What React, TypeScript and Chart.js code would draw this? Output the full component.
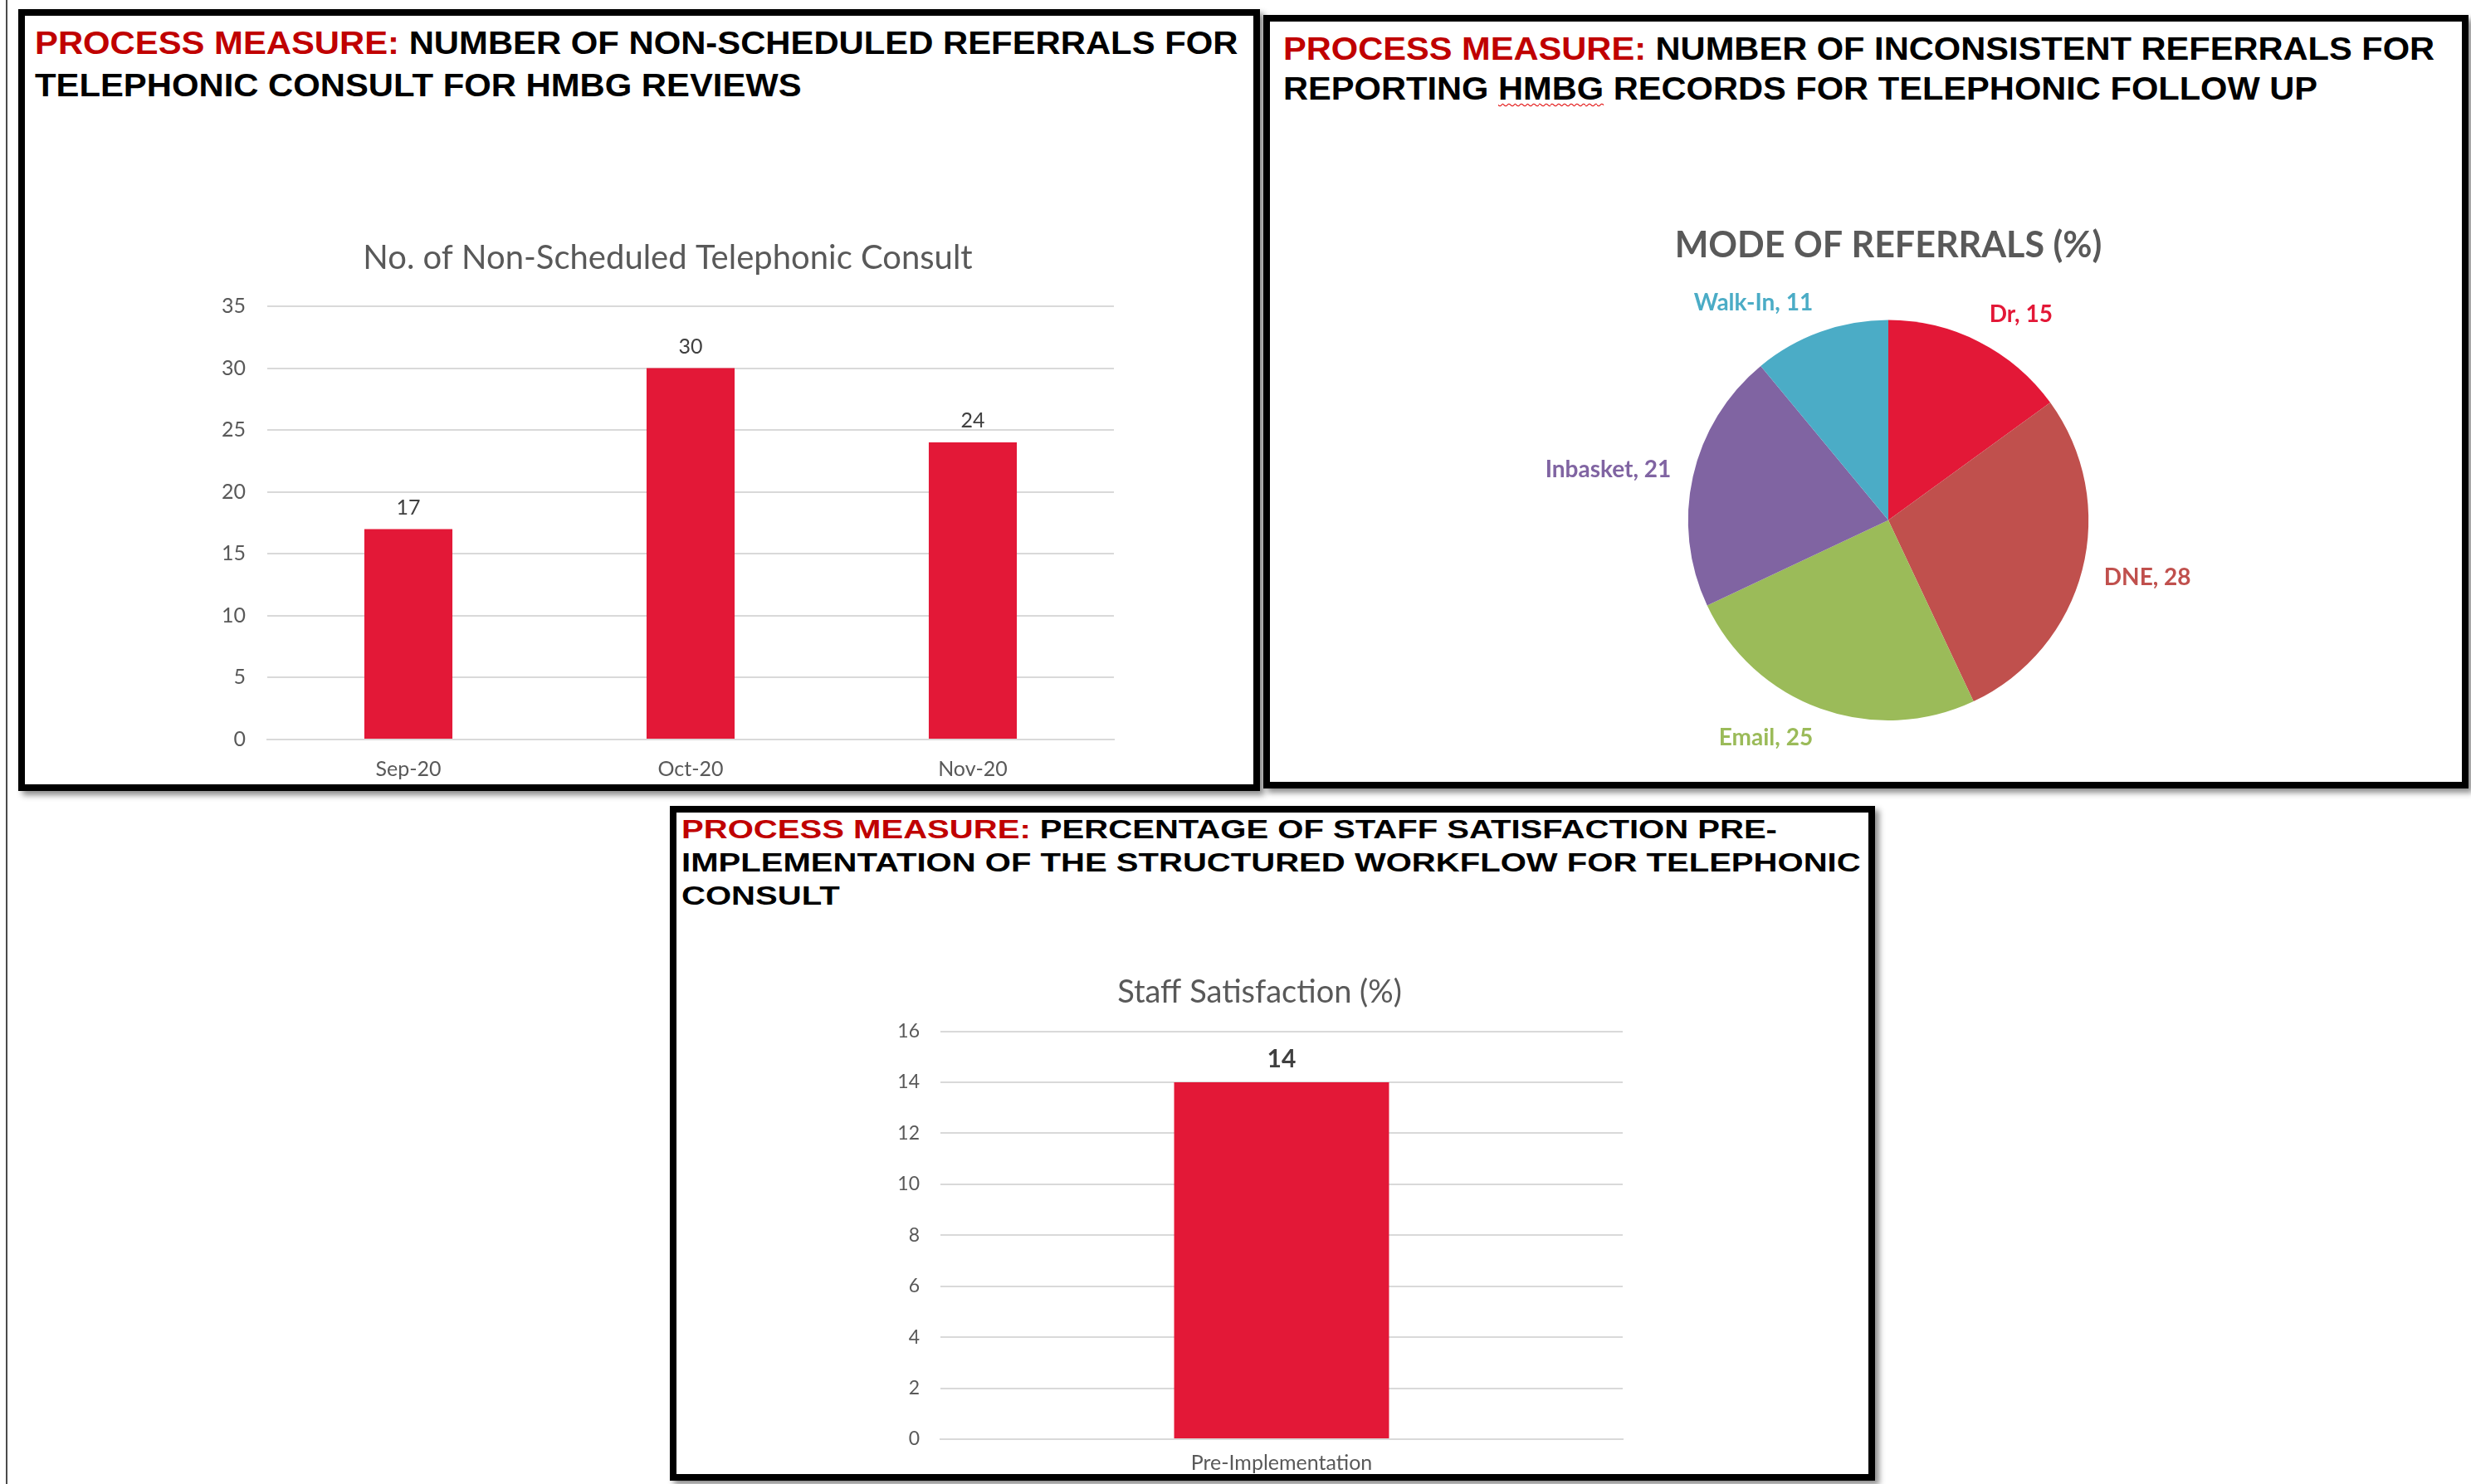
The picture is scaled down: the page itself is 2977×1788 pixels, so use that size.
import React, { useEffect, useRef } from "react";
import { Chart, registerables } from "chart.js";

Chart.register(...registerables);

// ---------- Data ----------
const consultMonths = ["Sep-20", "Oct-20", "Nov-20"];
const consultCounts = [17, 30, 24];
const consultAxisMax = 35;
const consultAxisStep = 5;

const referralModes = ["Dr", "DNE", "Email", "Inbasket", "Walk-In"];
const referralShares = [15, 28, 25, 21, 11];
const referralColors = ["#E31837", "#C0504D", "#9BBB59", "#8064A2", "#4BACC6"];

const satisfactionLabels = ["Pre-Implementation"];
const satisfactionValues = [14];
const satisfactionAxisMax = 16;
const satisfactionAxisStep = 2;

const BAR_RED = "#E31837";
const GRID = "#D9D9D9";
const AXIS_TEXT = "#595959";
const FONT = "Lato, 'Open Sans', sans-serif";

// ---------- Plugins ----------
const valueLabelPlugin = {
  id: "valueLabels",
  afterDatasetsDraw(chart: any, _args: any, opts: any) {
    if (!opts || !opts.display) return;
    const ctx = chart.ctx;
    ctx.save();
    ctx.font = opts.font;
    ctx.fillStyle = opts.color;
    ctx.textAlign = "center";
    ctx.textBaseline = "middle";
    chart.data.datasets.forEach((ds: any, di: number) => {
      const meta = chart.getDatasetMeta(di);
      meta.data.forEach((el: any, i: number) => {
        const p = el.getProps(["x", "y"], true);
        ctx.fillText(String(ds.data[i]), p.x, p.y - opts.offset);
      });
    });
    ctx.restore();
  },
};

const pieLabelPlugin = {
  id: "pieLabels",
  afterDatasetsDraw(chart: any, _args: any, opts: any) {
    if (!opts || !opts.display) return;
    const ctx = chart.ctx;
    const meta = chart.getDatasetMeta(0);
    const ds = chart.data.datasets[0];
    ctx.save();
    ctx.font = opts.font;
    ctx.textAlign = "center";
    ctx.textBaseline = "middle";
    meta.data.forEach((arc: any, i: number) => {
      const p = arc.getProps(["x", "y", "startAngle", "endAngle", "outerRadius"], true);
      const mid = (p.startAngle + p.endAngle) / 2;
      const c = Math.cos(mid);
      const s = Math.sin(mid);
      const text = `${chart.data.labels[i]}, ${ds.data[i]}`;
      const halfW = ctx.measureText(text).width / 2;
      const ax = p.x + (p.outerRadius + opts.gap) * c;
      const ay = p.y + (p.outerRadius + opts.gap) * s;
      const tx = ax + Math.sign(c) * halfW * Math.min(1, 3 * Math.abs(c));
      const ty = ay + s * opts.halfH;
      ctx.fillStyle = ds.backgroundColor[i];
      ctx.fillText(text, tx, ty);
    });
    ctx.restore();
  },
};

// ---------- Chart wrapper ----------
function ChartCanvas({ makeConfig, style }: { makeConfig: () => any; style: React.CSSProperties }) {
  const ref = useRef<HTMLCanvasElement | null>(null);
  useEffect(() => {
    if (!ref.current) return;
    const chart = new Chart(ref.current, makeConfig());
    return () => chart.destroy();
  }, []);
  const w = style.width as number;
  const h = style.height as number;
  return (
    <div style={{ position: "absolute", ...style }}>
      <canvas ref={ref} width={w} height={h} style={{ width: w, height: h, display: "block" }} />
    </div>
  );
}

const consultConfig = () => ({
  type: "bar",
  data: {
    labels: consultMonths,
    datasets: [
      {
        data: consultCounts,
        backgroundColor: BAR_RED,
        borderWidth: 0,
        categoryPercentage: 1,
        barPercentage: 0.312,
      },
    ],
  },
  plugins: [valueLabelPlugin],
  options: {
    responsive: false,
    animation: false,
    layout: { padding: { top: 0, left: 0, right: 20, bottom: 6 } },
    plugins: {
      legend: { display: false },
      tooltip: { enabled: false },
      title: {
        display: true,
        text: "No. of Non-Scheduled Telephonic Consult",
        color: AXIS_TEXT,
        font: { family: FONT, size: 40, weight: "normal" },
        padding: { top: 7, bottom: 34 },
      },
      valueLabels: { display: true, font: `25px ${FONT}`, color: "#404040", offset: 26 },
    },
    scales: {
      x: {
        grid: { display: false },
        border: { display: true, color: GRID, width: 2 },
        ticks: { color: AXIS_TEXT, font: { family: FONT, size: 25 }, padding: 13 },
      },
      y: {
        min: 0,
        max: consultAxisMax,
        ticks: { stepSize: consultAxisStep, color: AXIS_TEXT, font: { family: FONT, size: 25 }, padding: 26 },
        grid: { color: GRID, lineWidth: 2, drawTicks: false },
        border: { display: false },
        afterFit: (s: any) => {
          s.width = 55;
        },
      },
    },
  },
});

const referralConfig = () => ({
  type: "pie",
  data: {
    labels: referralModes,
    datasets: [
      {
        data: referralShares,
        backgroundColor: referralColors,
        borderWidth: 0,
        borderColor: "rgba(0,0,0,0)",
      },
    ],
  },
  plugins: [pieLabelPlugin],
  options: {
    responsive: false,
    animation: false,
    layout: { padding: { top: 0, left: 0, right: 0, bottom: 40 } },
    plugins: {
      legend: { display: false },
      tooltip: { enabled: false },
      title: {
        display: true,
        text: "MODE OF REFERRALS (%)",
        color: AXIS_TEXT,
        font: { family: FONT, size: 43, weight: "bold" },
        padding: { top: 30, bottom: 64 },
      },
      pieLabels: { display: true, font: `bold 28px ${FONT}`, gap: 27, halfH: 10 },
    },
  },
});

const satisfactionConfig = () => ({
  type: "bar",
  data: {
    labels: satisfactionLabels,
    datasets: [
      {
        data: satisfactionValues,
        backgroundColor: BAR_RED,
        borderWidth: 0,
        categoryPercentage: 1,
        barPercentage: 0.315,
      },
    ],
  },
  plugins: [valueLabelPlugin],
  options: {
    responsive: false,
    animation: false,
    layout: { padding: { top: 0, left: 0, right: 20, bottom: 4 } },
    plugins: {
      legend: { display: false },
      tooltip: { enabled: false },
      title: {
        display: true,
        text: "Staff Satisfaction (%)",
        color: AXIS_TEXT,
        font: { family: FONT, size: 38, weight: "normal" },
        padding: { top: 13, bottom: 24 },
      },
      valueLabels: { display: true, font: `bold 30px ${FONT}`, color: "#404040", offset: 28 },
    },
    scales: {
      x: {
        grid: { display: false },
        border: { display: true, color: GRID, width: 2 },
        ticks: { color: AXIS_TEXT, font: { family: FONT, size: 25 }, padding: 6 },
      },
      y: {
        min: 0,
        max: satisfactionAxisMax,
        ticks: { stepSize: satisfactionAxisStep, color: AXIS_TEXT, font: { family: FONT, size: 23 }, padding: 25 },
        grid: { color: GRID, lineWidth: 2, drawTicks: false },
        border: { display: false },
        afterFit: (s: any) => {
          s.width = 53;
        },
      },
    },
  },
});

// ---------- Layout pieces ----------
const panelStyle = (left: number, top: number, width: number, height: number): React.CSSProperties => ({
  position: "absolute",
  left,
  top,
  width,
  height,
  boxSizing: "border-box",
  border: "8px solid #000",
  background: "#fff",
  boxShadow: "5px 5px 7px rgba(0,0,0,0.45)",
});

const RED = "#C00000";

function Heading({
  left,
  top,
  size,
  lineHeight,
  scaleX,
  lines,
}: {
  left: number;
  top: number;
  size: number;
  lineHeight: number;
  scaleX: number;
  lines: React.ReactNode[];
}) {
  return (
    <div
      style={{
        position: "absolute",
        left,
        top,
        fontFamily: "'Liberation Sans', Arial, sans-serif",
        fontWeight: "bold",
        fontSize: size,
        lineHeight: `${lineHeight}px`,
        whiteSpace: "nowrap",
        color: "#000",
        transform: `scaleX(${scaleX})`,
        transformOrigin: "0 0",
      }}
    >
      {lines.map((l, i) => (
        <div key={i}>{l}</div>
      ))}
    </div>
  );
}

export default function App() {
  return (
    <div
      style={{
        position: "fixed",
        left: 0,
        top: 0,
        width: 2977,
        height: 1788,
        background: "#fff",
        overflow: "hidden",
      }}
    >
      {/* page edge line */}
      <div style={{ position: "absolute", left: 7, top: 0, width: 2, height: 1788, background: "#4a4a4a" }} />

      {/* Panels */}
      <div style={panelStyle(22, 11, 1496, 942)} />
      <div style={panelStyle(1522, 18, 1452, 932)} />
      <div style={panelStyle(807, 971, 1452, 813)} />

      {/* Headings */}
      <Heading
        left={42}
        top={26}
        size={39}
        lineHeight={51}
        scaleX={1.072}
        lines={[
          <>
            <span style={{ color: RED }}>PROCESS MEASURE:</span> NUMBER OF NON-SCHEDULED REFERRALS FOR
          </>,
          <>TELEPHONIC CONSULT FOR HMBG REVIEWS</>,
        ]}
      />
      <Heading
        left={1546}
        top={35}
        size={39}
        lineHeight={48}
        scaleX={1.067}
        lines={[
          <>
            <span style={{ color: RED }}>PROCESS MEASURE:</span> NUMBER OF INCONSISTENT REFERRALS FOR
          </>,
          <>
            REPORTING{" "}
            <span
              style={{
                textDecorationLine: "underline",
                textDecorationStyle: "wavy",
                textDecorationColor: "#E00000",
                textDecorationThickness: "1px",
                textUnderlineOffset: "4px",
              }}
            >
              HMBG
            </span>{" "}
            RECORDS FOR TELEPHONIC FOLLOW UP
          </>,
        ]}
      />
      <Heading
        left={821}
        top={979}
        size={32}
        lineHeight={40}
        scaleX={1.252}
        lines={[
          <>
            <span style={{ color: RED }}>PROCESS MEASURE:</span> PERCENTAGE OF STAFF SATISFACTION PRE-
          </>,
          <>IMPLEMENTATION OF THE STRUCTURED WORKFLOW FOR TELEPHONIC</>,
          <>CONSULT</>,
        ]}
      />

      {/* Charts */}
      <ChartCanvas makeConfig={consultConfig} style={{ left: 267, top: 280, width: 1095, height: 681 }} />
      <ChartCanvas makeConfig={referralConfig} style={{ left: 1825, top: 240, width: 900, height: 668 }} />
      <ChartCanvas makeConfig={satisfactionConfig} style={{ left: 1080, top: 1160, width: 895, height: 628 }} />
    </div>
  );
}
